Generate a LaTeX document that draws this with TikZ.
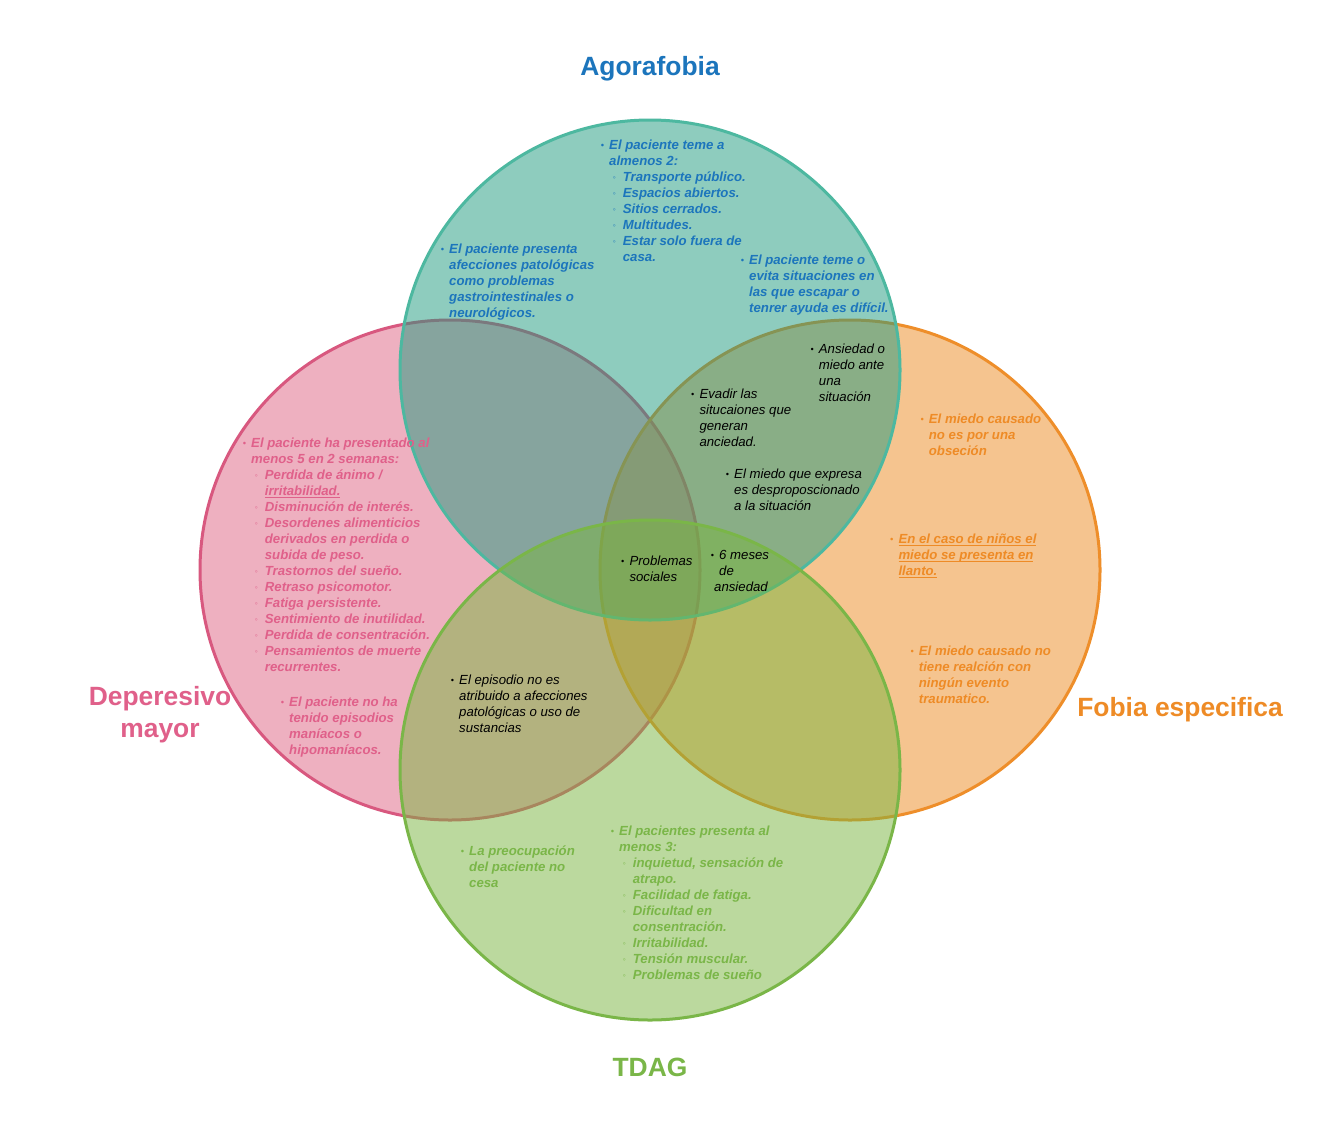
\documentclass[tikz,border=0pt]{standalone}
\usepackage{fontspec}
\setmainfont{Liberation Sans}
\definecolor{agoraF}{HTML}{1F9A7E}
\definecolor{agoraS}{HTML}{4DB8A0}
\definecolor{agoraT}{HTML}{1C75BC}
\definecolor{pinkF}{HTML}{DE6283}
\definecolor{pinkS}{HTML}{D8587F}
\definecolor{pinkT}{HTML}{E0608A}
\definecolor{orF}{HTML}{ED8B20}
\definecolor{orS}{HTML}{EE8E2A}
\definecolor{orT}{HTML}{EE8B26}
\definecolor{grF}{HTML}{79B53F}
\definecolor{grS}{HTML}{7AB648}
\definecolor{grT}{HTML}{7AB648}
\newcommand\bul{{\fontsize{9}{9}\selectfont\raisebox{1pt}{\textbullet}}}
\newcommand\sbul{{\fontsize{8.5}{8.5}\selectfont\raisebox{1pt}{◦}}}
\newcommand\Ia[1]{\makebox[8pt][l]{\hspace*{-0.3pt}\bul}#1}
\newcommand\Ic[1]{\hspace*{8pt}#1}
\newcommand\Sa[1]{\hspace*{8pt}\makebox[13.7pt][l]{\hspace*{3.6pt}\sbul}#1}
\newcommand\Sc[1]{\hspace*{21.7pt}#1}
\newcommand\fl{\rule{0pt}{12pt}}
\newsavebox\ulb
\newcommand\ulx[1]{\sbox\ulb{#1}\rlap{\rule[-2pt]{\wd\ulb}{0.9pt}}\usebox\ulb}
\tikzset{
  venn/.style={circle, minimum size=500pt, inner sep=0pt, line width=3pt, fill opacity=0.5, draw opacity=1},
  txt/.style={anchor=north west, inner sep=0pt, align=left, font=\fontsize{13.2}{16}\selectfont\bfseries\itshape},
  blk/.style={anchor=north west, inner sep=0pt, align=left, font=\fontsize{13.2}{16}\selectfont\itshape, text=black},
  ttl/.style={inner sep=0pt, font=\fontsize{26.4}{32}\selectfont\bfseries}
}
\begin{document}
\begin{tikzpicture}[x=1pt,y=-1pt]
\fill[white] (0,0) rectangle (1340,1140);
\useasboundingbox (0,0) rectangle (1340,1140);
% circles
\node[venn, fill=pinkF, draw=pinkS] (cD) at (450,570) {};
\node[venn, fill=orF, draw=orS] (cF) at (850,570) {};
\node[venn, fill=agoraF, draw=agoraS] (cA) at (650,370) {};
\node[venn, fill=grF, draw=grS] (cT) at (650,770) {};
% titles
\node[ttl, text=agoraT, anchor=base] (tA) at (650,75) {Agorafobia};
\node[ttl, text=pinkT, anchor=north, align=center] (tD) at (160,681) {\rule{0pt}{24pt}Deperesivo\\mayor};
\node[ttl, text=orT, anchor=base] (tF) at (1180,716) {Fobia especifica};
\node[ttl, text=grT, anchor=base] (tT) at (650,1076) {TDAG};
% Agorafobia
\node[txt, text=agoraT] (a1) at (601,137.3) {\fl\Ia{El paciente teme a}\\
\Ic{almenos 2:}\\
\Sa{Transporte público.}\\
\Sa{Espacios abiertos.}\\
\Sa{Sitios cerrados.}\\
\Sa{Multitudes.}\\
\Sa{Estar solo fuera de}\\
\Sc{casa.}};
\node[txt, text=agoraT] (a2) at (441,241.3) {\fl\Ia{El paciente presenta}\\
\Ic{afecciones patológicas}\\
\Ic{como problemas}\\
\Ic{gastrointestinales o}\\
\Ic{neurológicos.}};
\node[txt, text=agoraT] (a3) at (741,252) {\fl\Ia{El paciente teme o}\\
\Ic{evita situaciones en}\\
\Ic{las que escapar o}\\
\Ic{tenrer ayuda es difícil.}};
% black intersections
\node[blk] (b1) at (810.7,341.3) {\fl\Ia{Ansiedad o}\\
\Ic{miedo ante}\\
\Ic{una}\\
\Ic{situación}};
\node[blk] (b2) at (691.3,386.3) {\fl\Ia{Evadir las}\\
\Ic{situcaiones que}\\
\Ic{generan}\\
\Ic{anciedad.}};
\node[blk] (b3) at (726,466.3) {\fl\Ia{El miedo que expresa}\\
\Ic{es desproposcionado}\\
\Ic{a la situación}};
\node[blk] (b4) at (621.3,553) {\fl\Ia{Problemas}\\
\Ic{sociales}};
\node[blk] (b5) at (711,547.3) {\fl\Ia{6 meses}\\
\Ic{de}\\
\hspace*{3pt}ansiedad};
\node[blk] (b6) at (451,672) {\fl\Ia{El episodio no es}\\
\Ic{atribuido a afecciones}\\
\Ic{patológicas o uso de}\\
\Ic{sustancias}};
% Depresivo
\node[txt, text=pinkT] (p1) at (243,435.3) {\fl\Ia{El paciente ha presentado al}\\
\Ic{menos 5 en 2 semanas:}\\
\Sa{Perdida de ánimo /}\\
\Sc{\ulx{irritabilidad.}}\\
\Sa{Disminución de interés.}\\
\Sa{Desordenes alimenticios}\\
\Sc{derivados en perdida o}\\
\Sc{subida de peso.}\\
\Sa{Trastornos del sueño.}\\
\Sa{Retraso psicomotor.}\\
\Sa{Fatiga persistente.}\\
\Sa{Sentimiento de inutilidad.}\\
\Sa{Perdida de consentración.}\\
\Sa{Pensamientos de muerte}\\
\Sc{recurrentes.}};
\node[txt, text=pinkT] (p2) at (281,694) {\fl\Ia{El paciente no ha}\\
\Ic{tenido episodios}\\
\Ic{maníacos o}\\
\Ic{hipomaníacos.}};
% Fobia
\node[txt, text=orT] (o1) at (920.7,411.3) {\fl\Ia{El miedo causado}\\
\Ic{no es por una}\\
\Ic{obseción}};
\node[txt, text=orT] (o2) at (890.3,531.3) {\fl\Ia{\ulx{En el caso de niños el}}\\
\Ic{\ulx{miedo se presenta en}}\\
\Ic{\ulx{llanto.}}};
\node[txt, text=orT] (o3) at (910.7,643.7) {\fl\Ia{El miedo causado no}\\
\Ic{tiene realción con}\\
\Ic{ningún evento}\\
\Ic{traumatico.}};
% TDAG
\node[txt, text=grT] (g1) at (461,843.7) {\fl\Ia{La preocupación}\\
\Ic{del paciente no}\\
\Ic{cesa}};
\node[txt, text=grT] (g2) at (611,823) {\fl\Ia{El pacientes presenta al}\\
\Ic{menos 3:}\\
\Sa{inquietud, sensación de}\\
\Sc{atrapo.}\\
\Sa{Facilidad de fatiga.}\\
\Sa{Dificultad en}\\
\Sc{consentración.}\\
\Sa{Irritabilidad.}\\
\Sa{Tensión muscular.}\\
\Sa{Problemas de sueño}};
\end{tikzpicture}
\end{document}
